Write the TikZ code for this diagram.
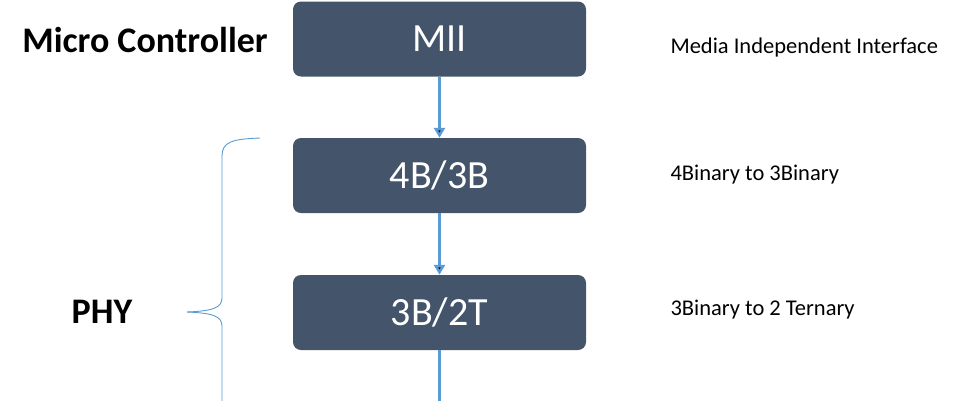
\documentclass[tikz,border=0pt]{standalone}
\usepackage{fontspec}
\setmainfont{Carlito}
\usetikzlibrary{arrows.meta}
\definecolor{slateblue}{HTML}{44546A}
\definecolor{lineblue}{HTML}{5B9BD5}

\begin{document}
\begin{tikzpicture}[x=1pt,y=-1pt,
        block/.style={shape=rectangle,fill=slateblue,rounded corners=8pt,minimum width=293pt,minimum height=75pt,text=white,font=\fontsize{40}{40}\selectfont},
        flow/.style={-{Triangle[width=11pt,length=10pt]},line width=3pt,draw=lineblue},
        side/.style={anchor=west,font=\fontsize{22.5}{22.5}\selectfont},
        title/.style={font=\fontsize{36}{36}\selectfont\bfseries}]
        % \draw (0,0) node {};
        \useasboundingbox (0,0) rectangle (968,400);
        \clip (0,0) rectangle (968,400);
        \node[block](mii) at (439.5,39)  {MII};
        \node[block](b43) at (439.5,175.5)  {4B/3B};
        \node[block](b32) at (439.5,312.5)  {3B/2T};
        \coordinate (out) at (439.5,412);
        \path [flow] (mii) edge node[] {} (b43);
        \path [flow] (b43) edge node[] {} (b32);
        \path [flow] (b32) edge node[] {} (out);
        \node[title](mc) at (145,40)  {Micro Controller};
        \node[title](phy) at (102,312)  {PHY};
        \draw[lineblue,line width=0.9pt] (260,138) .. controls (232,139) and (222,142) .. (222,156) -- (222,298) .. controls (222,308) and (212,311) .. (187,312);
        \draw[lineblue,line width=0.9pt] (187,312) .. controls (212,313) and (222,316) .. (222,326) -- (222,410);
        \node[side](t1) at (667,47)  {Media Independent Interface};
        \node[side](t2) at (667,175)  {4Binary to 3Binary};
        \node[side](t3) at (667,310)  {3Binary to 2 Ternary};
    \end{tikzpicture}
\end{document}
